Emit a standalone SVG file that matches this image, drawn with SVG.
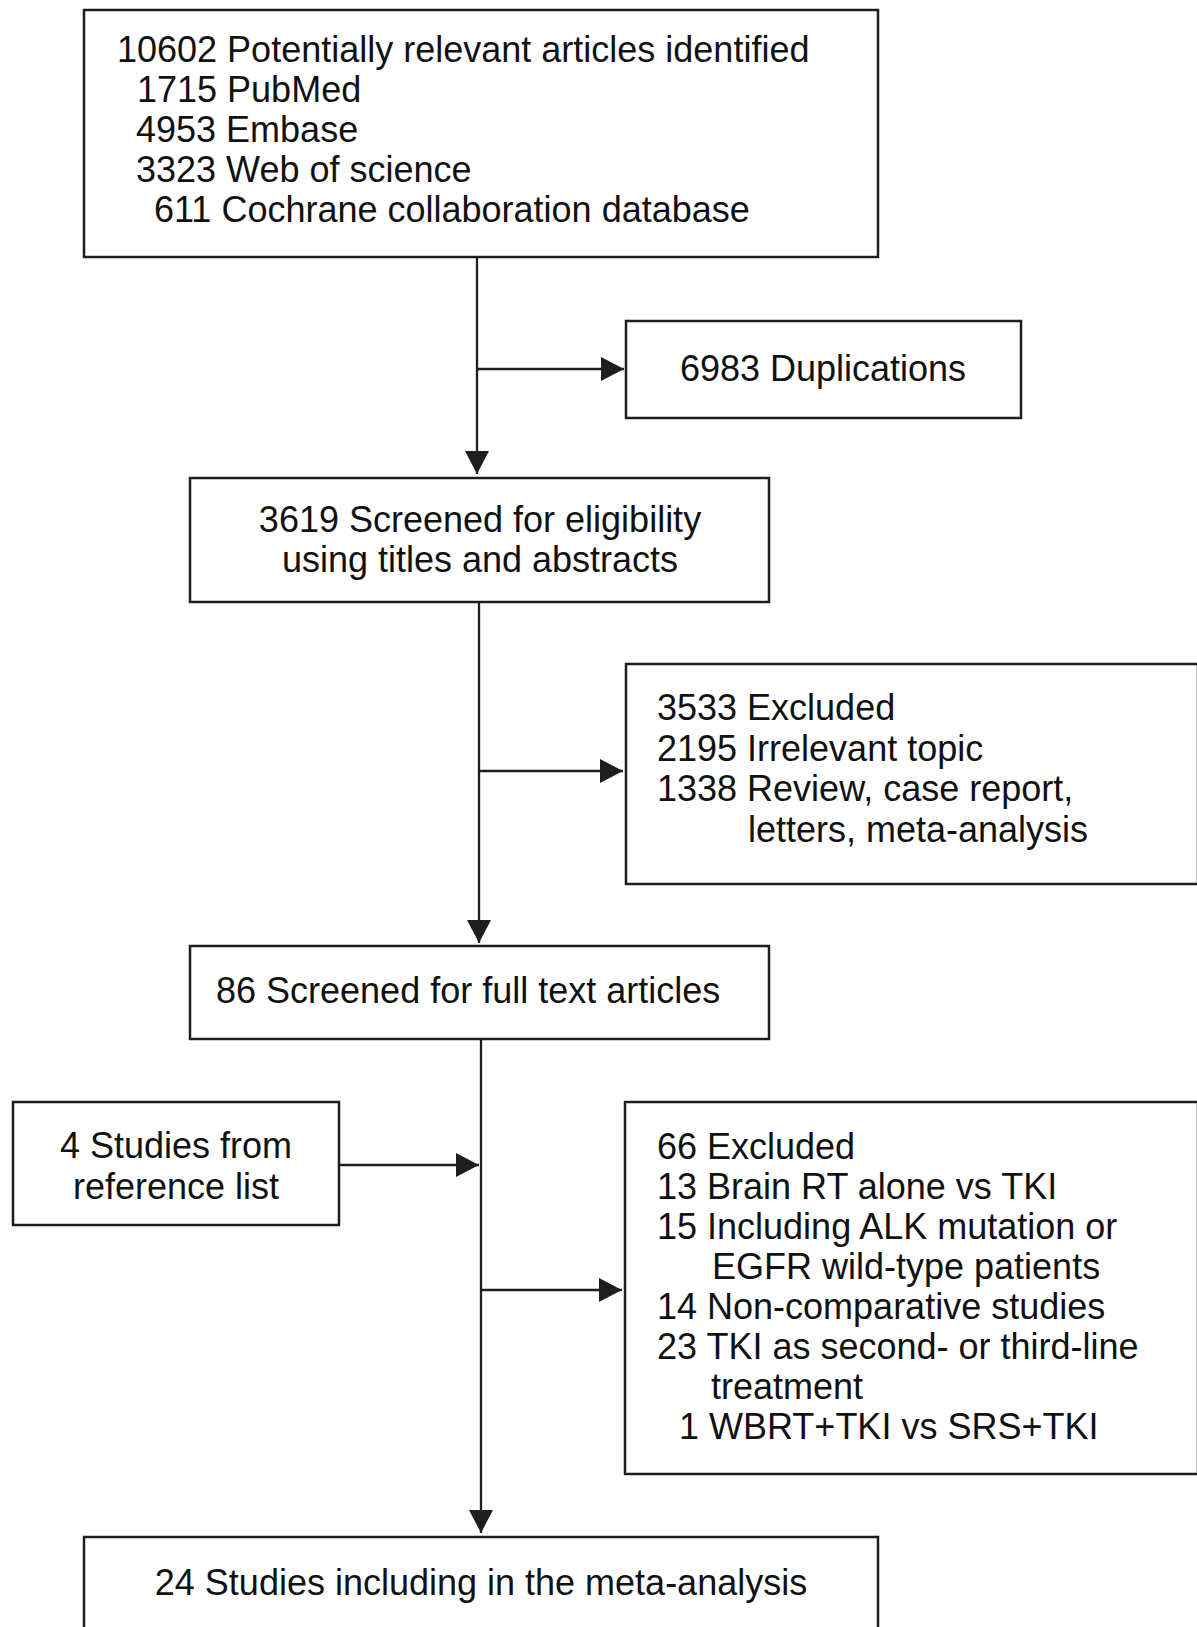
<svg xmlns="http://www.w3.org/2000/svg" width="1197" height="1627" viewBox="0 0 1197 1627">
<style>
.box{fill:#fff;stroke:#1e1e1e;stroke-width:2.5}
.ln{fill:none;stroke:#1e1e1e;stroke-width:2.3}
text{font-family:"Liberation Sans",Arial,sans-serif;font-size:36px;fill:#111}
.c{text-anchor:middle}
</style>
<defs>
<marker id="ah" markerUnits="userSpaceOnUse" markerWidth="26" markerHeight="26" refX="23" refY="12" orient="auto">
<path d="M0,0 L23,12 L0,24 Z" fill="#1e1e1e"/>
</marker>
</defs>
<rect width="1197" height="1627" fill="#fff"/>
<g id="connectors">
<line class="ln" x1="477" y1="257" x2="477" y2="474" marker-end="url(#ah)"/>
<line class="ln" x1="477" y1="369" x2="624" y2="369" marker-end="url(#ah)"/>
<line class="ln" x1="479" y1="602" x2="479" y2="943" marker-end="url(#ah)"/>
<line class="ln" x1="479" y1="771" x2="623" y2="771" marker-end="url(#ah)"/>
<line class="ln" x1="481" y1="1039" x2="481" y2="1533" marker-end="url(#ah)"/>
<line class="ln" x1="339" y1="1165" x2="479" y2="1165" marker-end="url(#ah)"/>
<line class="ln" x1="481" y1="1290" x2="622" y2="1290" marker-end="url(#ah)"/>
</g>
<g id="n_identified">
<rect class="box" x="84" y="10" width="794" height="247"/>
<text x="117" y="62">10602 Potentially relevant articles identified</text>
<text x="137" y="102">1715 PubMed</text>
<text x="136" y="142">4953 Embase</text>
<text x="136" y="182">3323 Web of science</text>
<text x="154" y="222">611 Cochrane collaboration database</text>
</g>
<g id="n_duplications">
<rect class="box" x="626" y="321" width="395" height="97"/>
<text class="c" x="823" y="381">6983 Duplications</text>
</g>
<g id="n_screened">
<rect class="box" x="190" y="478" width="579" height="124"/>
<text class="c" x="480" y="532">3619 Screened for eligibility</text>
<text class="c" x="480" y="572">using titles and abstracts</text>
</g>
<g id="n_excluded1">
<rect class="box" x="626" y="664" width="572" height="220"/>
<text x="657" y="720">3533 Excluded</text>
<text x="657" y="761">2195 Irrelevant topic</text>
<text x="657" y="801">1338 Review, case report,</text>
<text x="748" y="842">letters, meta-analysis</text>
</g>
<g id="n_fulltext">
<rect class="box" x="190" y="946" width="579" height="93"/>
<text x="216" y="1003">86 Screened for full text articles</text>
</g>
<g id="n_reference">
<rect class="box" x="13" y="1102" width="326" height="123"/>
<text class="c" x="176" y="1158">4 Studies from</text>
<text class="c" x="176" y="1199">reference list</text>
</g>
<g id="n_excluded2">
<rect class="box" x="625" y="1102" width="573" height="372"/>
<text x="657" y="1159">66 Excluded</text>
<text x="657" y="1199">13 Brain RT alone vs TKI</text>
<text x="657" y="1239">15 Including ALK mutation or</text>
<text x="712" y="1279">EGFR wild-type patients</text>
<text x="657" y="1319">14 Non-comparative studies</text>
<text x="657" y="1359">23 TKI as second- or third-line</text>
<text x="711" y="1399">treatment</text>
<text x="679" y="1439">1 WBRT+TKI vs SRS+TKI</text>
</g>
<g id="n_included">
<rect class="box" x="84" y="1537" width="794" height="100"/>
<text class="c" x="481" y="1595">24 Studies including in the meta-analysis</text>
</g>
</svg>
